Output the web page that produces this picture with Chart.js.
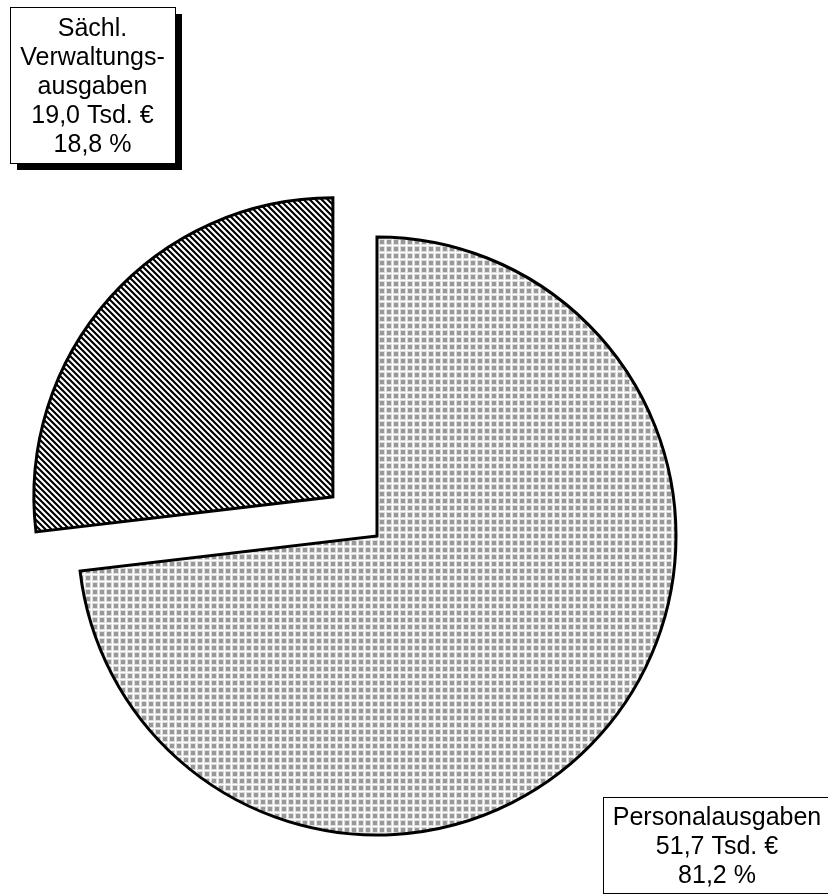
<!DOCTYPE html>
<html>
<head>
<meta charset="utf-8">
<style>
  html, body { margin: 0; padding: 0; background: #fff; }
  canvas { display: block; }
</style>
<script src="https://cdn.jsdelivr.net/npm/chart.js@4/dist/chart.umd.min.js"></script>
</head>
<body>
<canvas id="myChart" width="828" height="894"></canvas>
<script>
  // data
  const categories = ['Personalausgaben', 'Sächl. Verwaltungsausgaben'];
  const labelLines = [['Personalausgaben'], ['Sächl.', 'Verwaltungs-', 'ausgaben']];
  const amounts = [51.7, 19.0];      // Tsd. €
  const percents = [81.2, 18.8];     // as printed in the boxes
  const explode = [0, 59];           // pixels pulled out along the bisector

  // German number format with one decimal
  function fmt(v) {
    return v.toFixed(1).replace('.', ',');
  }

  // grid pattern for the big slice
  function gridPattern() {
    const c = document.createElement('canvas');
    c.width = 7; c.height = 7;
    const g = c.getContext('2d');
    g.fillStyle = '#dcdcdc';
    g.fillRect(0, 0, 7, 7);
    g.fillStyle = '#ffffff';
    g.fillRect(0, 0, 7, 1);
    g.fillRect(0, 0, 1, 7);
    g.fillStyle = '#989898';
    g.fillRect(2, 2, 4, 4);
    return g.createPattern(c, 'repeat');
  }

  // diagonal hatch for the small slice
  function hatchPattern() {
    const n = 6;
    const c = document.createElement('canvas');
    c.width = n; c.height = n;
    const g = c.getContext('2d');
    const img = g.createImageData(n, n);
    for (let y = 0; y < n; y++) {
      for (let x = 0; x < n; x++) {
        const k = ((x - y) % n + n) % n;
        const v = k < 3 ? 0 : 255;
        const i = (y * n + x) * 4;
        img.data[i] = v; img.data[i + 1] = v; img.data[i + 2] = v; img.data[i + 3] = 255;
      }
    }
    g.putImageData(img, 0, 0);
    return g.createPattern(c, 'repeat');
  }

  // pull slices out like an exploded office pie (chart.js offset only grows the radius)
  const explodePlugin = {
    id: 'explode',
    afterUpdate(chart) {
      const meta = chart.getDatasetMeta(0);
      meta.data.forEach((arc, i) => {
        if (!explode[i] || arc._wrapped) return;
        const orig = arc.draw;
        arc.draw = function (ctx, area) {
          const half = (this.startAngle + this.endAngle) / 2;
          ctx.save();
          ctx.translate(Math.cos(half) * explode[i], Math.sin(half) * explode[i]);
          orig.call(this, ctx, area);
          ctx.restore();
        };
        arc._wrapped = true;
      });
    }
  };

  // boxed labels with drop shadow
  const boxes = [
    { x: 603, y: 797, w: 240, h: 96, shadow: 7 },
    { x: 10, y: 7, w: 165, h: 156, shadow: 7 }
  ];

  const labelBoxPlugin = {
    id: 'labelBoxes',
    afterDraw(chart) {
      const ctx = chart.ctx;
      ctx.save();
      ctx.font = '25px "Liberation Sans", Arial, sans-serif';
      ctx.textAlign = 'center';
      ctx.textBaseline = 'alphabetic';
      boxes.forEach((b, i) => {
        ctx.fillStyle = '#000';
        ctx.fillRect(b.x + b.shadow, b.y + b.shadow, b.w, b.h);
        ctx.fillStyle = '#fff';
        ctx.fillRect(b.x, b.y, b.w, b.h);
        ctx.strokeStyle = '#000';
        ctx.lineWidth = 1;
        ctx.strokeRect(b.x + 0.5, b.y + 0.5, b.w, b.h);
        const lines = labelLines[i].concat([fmt(amounts[i]) + ' Tsd. €', fmt(percents[i]) + ' %']);
        const lh = 29;
        const cx = i === 0 ? b.x + 114 : b.x + b.w / 2;
        const top = b.y + (b.h - lines.length * lh) / 2;
        ctx.fillStyle = '#000';
        lines.forEach((t, j) => {
          ctx.fillText(t, cx, top + j * lh + 23);
        });
      });
      ctx.restore();
    }
  };

  const myChart = new Chart(document.getElementById('myChart'), {
    type: 'pie',
    data: {
      labels: categories,
      datasets: [{
        data: amounts,
        backgroundColor: [gridPattern(), hatchPattern()],
        borderColor: '#000',
        borderWidth: 3,
        borderJoinStyle: 'miter'
      }]
    },
    options: {
      responsive: false,
      animation: false,
      radius: 299,
      layout: { padding: { left: 0, right: 74, top: 178, bottom: 0 } },
      plugins: {
        legend: { display: false },
        tooltip: { enabled: false }
      }
    },
    plugins: [explodePlugin, labelBoxPlugin]
  });
</script>
</body>
</html>
